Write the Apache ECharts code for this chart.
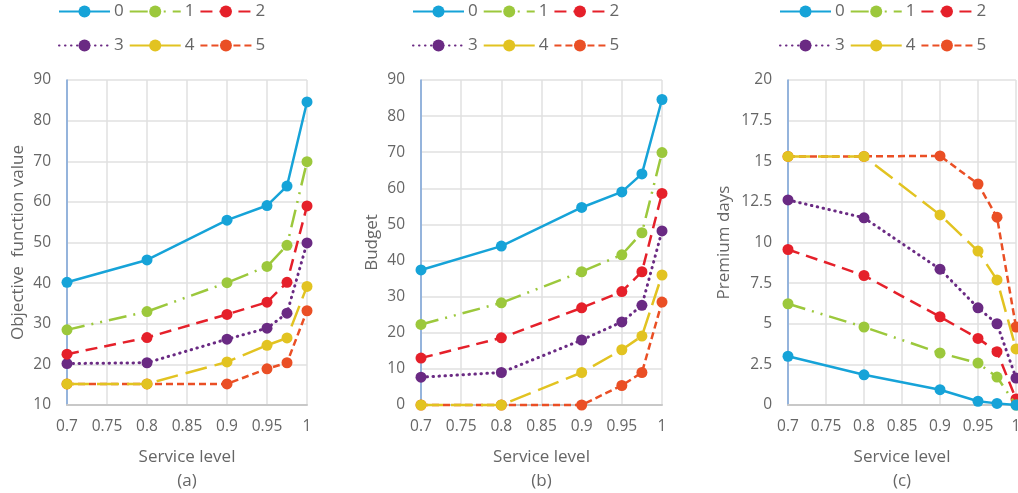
<!DOCTYPE html>
<html><head><meta charset="utf-8">
<script src="https://cdn.jsdelivr.net/npm/echarts@6/dist/echarts.min.js"></script>
<style>html,body{margin:0;padding:0;background:#fff}#c{width:1018px;height:493px}</style>
</head><body><div id="c"></div>
<script>
const serviceLevels = [0.7, 0.8, 0.9, 0.95, 0.975, 1];
const seriesNames = ['0', '1', '2', '3', '4', '5'];

const objective0 = [40.2, 45.7, 55.5, 59.1, 63.9, 84.6];
const objective1 = [28.5, 33.0, 40.1, 44.1, 49.3, 69.9];
const objective2 = [22.5, 26.6, 32.3, 35.3, 40.2, 59.0];
const objective3 = [20.2, 20.4, 26.2, 28.9, 32.6, 49.9];
const objective4 = [15.2, 15.2, 20.6, 24.7, 26.5, 39.2];
const objective5 = [15.2, 15.2, 15.2, 18.9, 20.4, 33.2];

const budget0 = [37.4, 44.0, 54.7, 59.0, 64.0, 84.6];
const budget1 = [22.3, 28.3, 36.9, 41.6, 47.7, 69.9];
const budget2 = [13.0, 18.6, 26.9, 31.4, 36.9, 58.6];
const budget3 = [7.7, 9.0, 18.0, 23.0, 27.6, 48.2];
const budget4 = [0, 0, 9.0, 15.3, 19.1, 36.0];
const budget5 = [0, 0, 0, 5.4, 9.0, 28.5];

const premium0 = [3.0, 1.86, 0.94, 0.23, 0.1, 0];
const premium1 = [6.23, 4.8, 3.2, 2.58, 1.72, 0];
const premium2 = [9.57, 7.97, 5.43, 4.1, 3.28, 0.37];
const premium3 = [12.62, 11.52, 8.36, 5.98, 5.0, 1.66];
const premium4 = [15.3, 15.3, 11.7, 9.47, 7.7, 3.45];
const premium5 = [15.3, 15.3, 15.33, 13.6, 11.56, 4.8];

const xTicks = ['0.7', '0.75', '0.8', '0.85', '0.9', '0.95', '1'];
const yTicksA = [10, 20, 30, 40, 50, 60, 70, 80, 90];
const yTicksB = [0, 10, 20, 30, 40, 50, 60, 70, 80, 90];
const yTicksC = ['0', '2.5', '5', '7.5', '10', '12.5', '15', '17.5', '20'];

const panels = [
  { data: [objective0, objective1, objective2, objective3, objective4, objective5], yName: 'Objective  function value', sub: '(a)', ticks: yTicksA, interval: 10, left: 67, width: 240, nameGap: 40 },
  { data: [budget0, budget1, budget2, budget3, budget4, budget5], yName: 'Budget', sub: '(b)', ticks: yTicksB, interval: 10, left: 421, width: 241, nameGap: 40 },
  { data: [premium0, premium1, premium2, premium3, premium4, premium5], yName: 'Premium days', sub: '(c)', ticks: yTicksC, interval: 2.5, left: 788, width: 228, nameGap: 55 }
];

const colors = ['#16a3d8', '#9cc83c', '#e5202a', '#6a2a83', '#e2c321', '#ea4f25'];
const dashes = ['solid', [18, 7, 2, 7, 2, 7], [12, 7], [0.5, 5.5], [22, 8], [7, 4]];
const FONT = 'Open Sans';
const TXT = '#666666';

const grids = [], xAxes = [], yAxes = [], series = [], legends = [];
panels.forEach((p, i) => {
  grids.push({ left: p.left, width: p.width, top: 80, height: 325, containLabel: false, outerBoundsMode: 'none' });
  xAxes.push({
    type: 'value', gridIndex: i, min: 0.7, max: 1, interval: 0.05,
    name: 'Service level\n' + p.sub, nameLocation: 'middle', nameGap: 40,
    nameTextStyle: { fontFamily: FONT, fontSize: 17, color: TXT, lineHeight: 24 },
    axisLine: { lineStyle: { color: '#c8c8c8', width: 2 } },
    axisTick: { show: false },
    splitLine: { show: true, lineStyle: { color: '#e0e0e0', width: 1.5 } },
    axisLabel: { fontFamily: FONT, fontSize: 15.5, color: TXT, margin: 14,
      formatter: v => { const s = xTicks.find(t => Math.abs(Number(t) - v) < 1e-6); return s || ''; } }
  });
  yAxes.push({
    type: 'value', gridIndex: i, min: Number(p.ticks[0]), max: Number(p.ticks[p.ticks.length - 1]), interval: p.interval,
    name: p.yName, nameLocation: 'middle', nameGap: p.nameGap,
    nameTextStyle: { fontFamily: FONT, fontSize: 17, color: TXT },
    axisLine: { show: true, onZero: false, lineStyle: { color: '#7aa3d8', width: 1.5 } },
    axisTick: { show: false },
    splitLine: { show: true, lineStyle: { color: '#e0e0e0', width: 1.5 } },
    axisLabel: { fontFamily: FONT, fontSize: 15.5, color: TXT, margin: 16,
      formatter: v => { const s = p.ticks.find(t => Math.abs(Number(t) - v) < 1e-6); return s !== undefined ? String(s) : ''; } }
  });
  p.data.forEach((vals, k) => {
    series.push({
      name: seriesNames[k], type: 'line', xAxisIndex: i, yAxisIndex: i,
      data: serviceLevels.map((x, j) => [x, vals[j]]),
      symbol: 'circle', symbolSize: 11, clip: false,
      itemStyle: { color: colors[k] },
      lineStyle: { color: colors[k], width: k === 3 ? 3 : 2.5, type: dashes[k], cap: k === 3 ? 'round' : 'butt' },
      z: 10 - k
    });
  });
  const legendLeft = p.left - 9;
  [[0, 1, 2], [3, 4, 5]].forEach((row, r) => {
    legends.push({
      left: legendLeft, top: r === 0 ? 3 : 37, padding: 0, itemWidth: 51, itemHeight: 15, itemGap: 5,
      data: row.map(k => seriesNames[k]),
      textStyle: { fontFamily: FONT, fontSize: 17, color: TXT, padding: [0, 0, 0, -1] },
      selectedMode: false
    });
  });
});

const chart = echarts.init(document.getElementById('c'), null, { renderer: 'canvas' });
chart.setOption({
  animation: false,
  grid: grids, xAxis: xAxes, yAxis: yAxes, series: series, legend: legends
});
</script>
</body></html>
